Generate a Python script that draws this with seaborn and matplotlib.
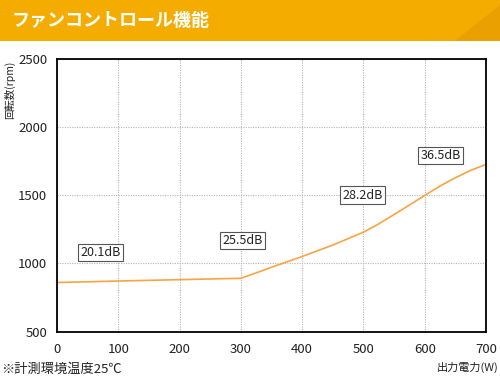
import matplotlib
matplotlib.use("Agg")
import matplotlib.pyplot as plt
import seaborn as sns
import pandas as pd
from matplotlib.patches import Rectangle, Polygon

# dados
watts = [0, 100, 200, 300, 325, 350, 400, 450, 500, 525, 550, 575, 600, 625, 650, 675, 700]
rpm = [860, 871, 881, 891, 931, 972, 1051, 1135, 1230, 1291, 1360, 1429, 1500, 1569, 1630, 1684, 1728]

db_labels = ["20.1dB", "25.5dB", "28.2dB", "36.5dB"]
db_x = [71, 303, 498, 626]
db_y = [1081, 1167, 1503, 1792]

x_ticks = [0, 100, 200, 300, 400, 500, 600, 700]
y_ticks = [500, 1000, 1500, 2000, 2500]

titulo = "ファンコントロール機能"
nota = "※計測環境温度25℃"

sns.set_style("white")
plt.rcParams['font.family'] = ['Noto Sans CJK JP', 'DejaVu Sans']

df = pd.DataFrame({"W": watts, "rpm": rpm})

fig = plt.figure(figsize=(5, 3.78), dpi=100)
ax = fig.add_axes([0.114, 0.123, 0.858, 0.72])

sns.lineplot(data=df, x="W", y="rpm", ax=ax, color="#F9A444", linewidth=1.2)

ax.set_xlim(0, 700)
ax.set_ylim(500, 2500)
ax.set_xticks(x_ticks)
ax.set_yticks(y_ticks)
ax.tick_params(axis='both', length=0, labelsize=9.5, colors="#222222")
ax.tick_params(axis='x', pad=8)
ax.tick_params(axis='y', pad=7)
ax.set_xlabel("")
ax.set_ylabel("")
ax.grid(True, linestyle=(0, (1, 1.2)), color="#b4b4b4", linewidth=0.8)
for s in ax.spines.values():
    s.set_color("black")
    s.set_linewidth(1.3)

for lab, x, y in zip(db_labels, db_x, db_y):
    ax.text(x, y, lab, ha="center", va="center", fontsize=9, color="#222222",
            bbox=dict(boxstyle="square,pad=0.18", facecolor="white", edgecolor="#555555", linewidth=0.8))

# faixa do título
fig.patches.append(Rectangle((0, 1 - 41 / 378), 1, 41 / 378, transform=fig.transFigure,
                             facecolor="#F5AC00", edgecolor="none"))
fig.patches.append(Polygon([(455 / 500, 1 - 41 / 378), (500 / 500, 1 - 41 / 378), (500 / 500, 1 - 5 / 378)],
                           closed=True, transform=fig.transFigure, facecolor="#E9A000", edgecolor="none"))
fig.text(12 / 500, 1 - 21 / 378, titulo, color="white", fontsize=13, fontweight="bold", va="center", ha="left")

fig.text(10 / 500, 1 - 90 / 378, "回転数(rpm)", rotation=90, fontsize=7.5, va="center", ha="center", color="#222222")
fig.text(498 / 500, 1 - 367 / 378, "出力電力(W)", fontsize=8, va="center", ha="right", color="#222222")
fig.text(1 / 500, 1 - 369 / 378, nota, fontsize=9.5, va="center", ha="left", color="#222222")

fig.savefig("out.png", dpi=100)
